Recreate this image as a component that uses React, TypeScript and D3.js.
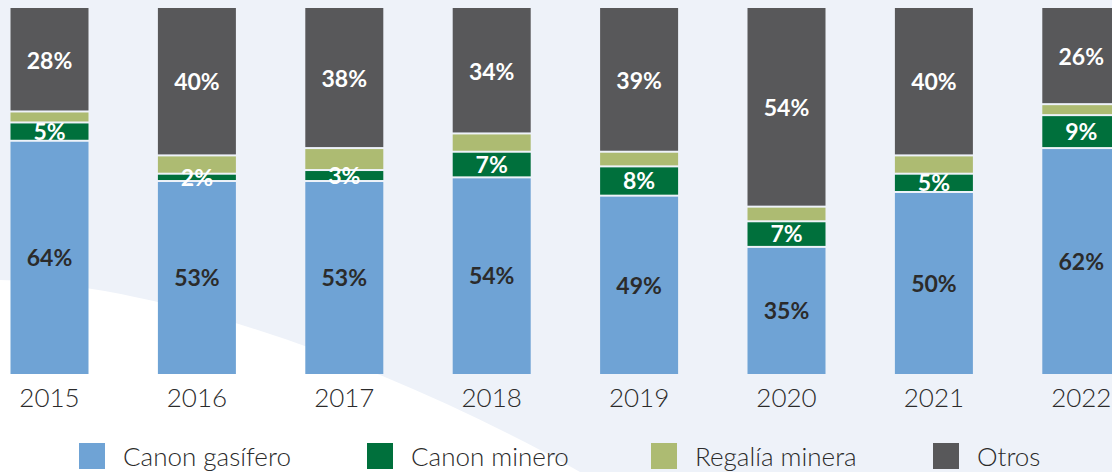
import React from "react";
import * as d3 from "d3";

const years = ["2015", "2016", "2017", "2018", "2019", "2020", "2021", "2022"];
const canonGasifero = [64, 53, 53, 54, 49, 35, 50, 62];
const canonMinero = [5, 2, 3, 7, 8, 7, 5, 9];
const regaliaMinera = [3, 5, 6, 5, 4, 4, 5, 3];
const otros = [28, 40, 38, 34, 39, 54, 40, 26];
const seriesNames = ["Canon gasífero", "Canon minero", "Regalía minera", "Otros"];
const seriesColors = ["#6fa3d5", "#00703c", "#adbb72", "#58585a"];
const labelColors = ["#2b2b2b", "#ffffff", null, "#ffffff"];

const W = 1112;
const H = 472;

export default function App() {
  const seriesValues = [canonGasifero, canonMinero, regaliaMinera, otros];
  const rows = years.map((y, i) => {
    const r: any = { year: y };
    seriesNames.forEach((s, k) => (r[s] = seriesValues[k][i]));
    return r;
  });
  const stacked = d3.stack().keys(seriesNames)(rows as any);
  const step = 147.4;
  const x = d3
    .scaleBand()
    .domain(years)
    .range([10.5, 10.5 + step * 7 + 78])
    .paddingInner(1 - 78 / step)
    .paddingOuter(0);
  const y = d3.scaleLinear().domain([0, 100]).range([374, 8]);
  const legendX = [79, 367, 651, 933];
  const font = "Lato, 'Open Sans', sans-serif";

  return (
    <svg width={W} height={H} style={{ position: "absolute", left: 0, top: 0 }} xmlns="http://www.w3.org/2000/svg">
      <rect x={0} y={0} width={W} height={H} fill="#eef2f9" />
      <path d="M0,280 C160,283 390,365 580,472 L0,472 Z" fill="#ffffff" />
      {stacked.map((layer, k) => (
        <g key={seriesNames[k]}>
          {layer.map((d, i) => {
            const x0 = x(years[i])!;
            const top = y(d[1]);
            const bot = y(d[0]);
            const gapTop = k === 3 ? 0 : 2;
            return (
              <rect key={i} x={x0} y={top + gapTop} width={x.bandwidth()} height={Math.max(0, bot - top - gapTop)} fill={seriesColors[k]} />
            );
          })}
        </g>
      ))}
      {stacked.map((layer, k) =>
        labelColors[k] ? (
          <g key={"l" + k}>
            {layer.map((d, i) => (
              <text
                key={i}
                x={x(years[i])! + x.bandwidth() / 2}
                y={(y(d[0]) + y(d[1])) / 2 + 1}
                dy="0.36em"
                textAnchor="middle"
                fontFamily={font}
                fontWeight={700}
                fontSize={23}
                fill={labelColors[k]!}
              >
                {seriesValues[k][i]}%
              </text>
            ))}
          </g>
        ) : null
      )}
      {years.map((yr) => (
        <text key={yr} x={x(yr)! + x.bandwidth() / 2} y={407} textAnchor="middle" fontFamily={font} fontWeight={300} fontSize={26} fill="#2b2b2b">
          {yr}
        </text>
      ))}
      {seriesNames.map((s, k) => (
        <g key={"lg" + k}>
          <rect x={legendX[k]} y={443} width={26} height={26} fill={seriesColors[k]} />
          <text x={legendX[k] + 44} y={466} fontFamily={font} fontWeight={300} fontSize={26} fill="#2b2b2b">
            {s}
          </text>
        </g>
      ))}
    </svg>
  );
}
